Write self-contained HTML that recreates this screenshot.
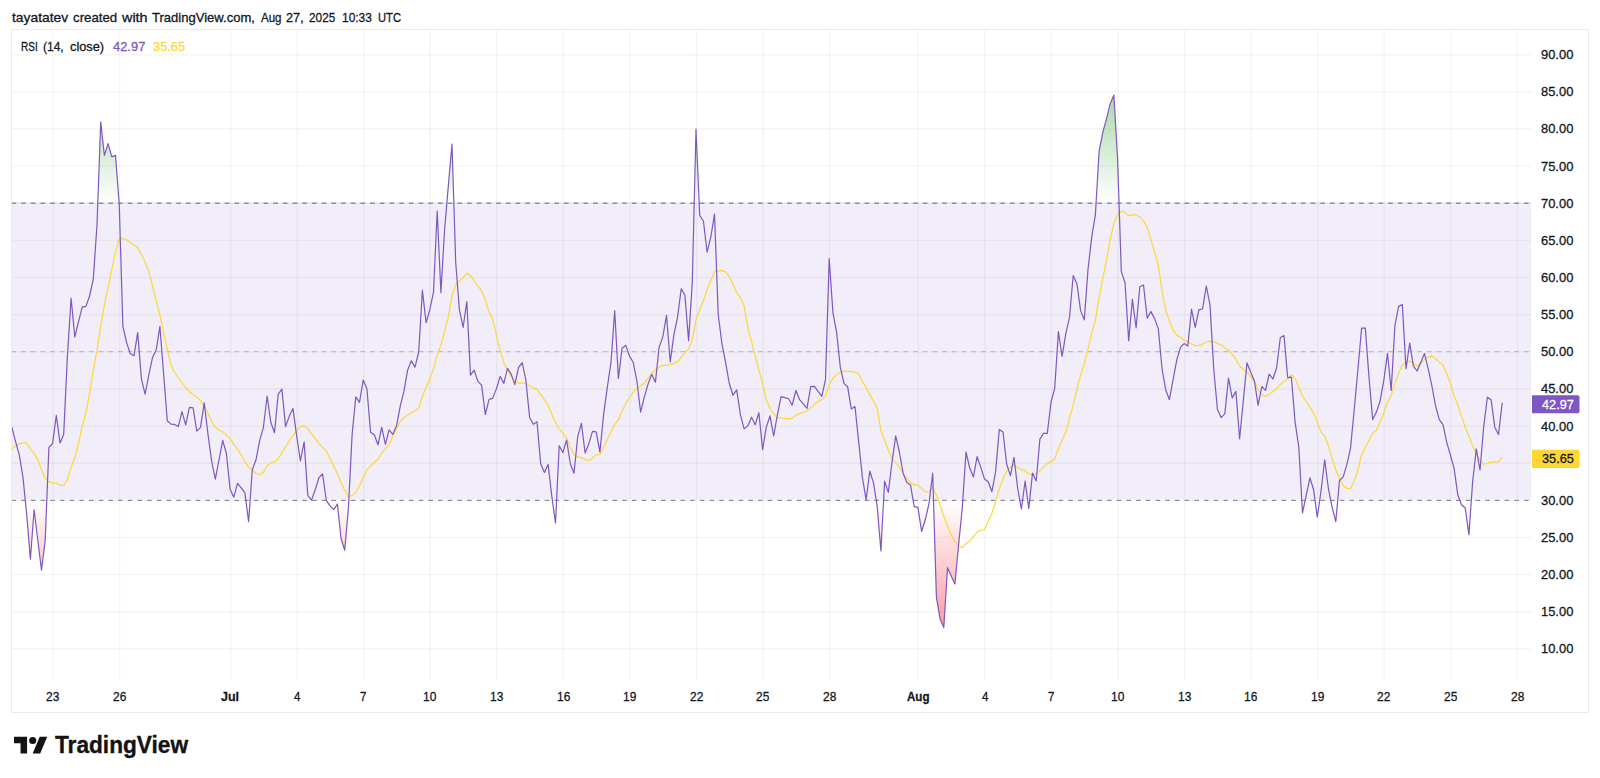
<!DOCTYPE html>
<html><head><meta charset="utf-8"><title>RSI chart</title>
<style>
html,body{margin:0;padding:0;background:#fff}
body{width:1600px;height:778px;position:relative;overflow:hidden;font-family:"Liberation Sans",sans-serif;color:#131722}
.w{position:absolute;display:block;white-space:nowrap;line-height:16px;transform-origin:0 0;color:#131722;-webkit-text-stroke:0.3px currentColor}
#frame{position:absolute;left:11px;top:29px;width:1578px;height:684px;border:1px solid #ececef;box-sizing:border-box}
svg{position:absolute;left:0;top:0}
#logo{position:absolute;left:13.5px;top:732px}
</style></head><body>
<span class="w" style="left:12.10px;top:9.70px;font-size:13.50px;transform:scaleX(1.0240);">tayatatev</span> <span class="w" style="left:72.60px;top:9.70px;font-size:13.50px;transform:scaleX(0.9817);">created</span> <span class="w" style="left:122.03px;top:9.70px;font-size:13.50px;transform:scaleX(1.0653);">with</span> <span class="w" style="left:152.20px;top:9.70px;font-size:13.50px;transform:scaleX(0.9657);">TradingView.com,</span> <span class="w" style="left:260.60px;top:9.70px;font-size:13.50px;transform:scaleX(0.8536);">Aug</span> <span class="w" style="left:286.00px;top:9.70px;font-size:13.50px;transform:scaleX(0.9432);">27,</span> <span class="w" style="left:308.90px;top:9.70px;font-size:13.50px;transform:scaleX(0.8756);">2025</span> <span class="w" style="left:342.00px;top:9.70px;font-size:13.50px;transform:scaleX(0.8852);">10:33</span> <span class="w" style="left:377.80px;top:9.70px;font-size:13.50px;transform:scaleX(0.8291);">UTC</span>
<div id="frame"></div>
<svg width="1600" height="778" viewBox="0 0 1600 778">
<defs><clipPath id="cp"><rect x="12" y="30" width="1519" height="651"/></clipPath>
<linearGradient id="gob" gradientUnits="userSpaceOnUse" x1="0" y1="-19.6" x2="0" y2="203.2"><stop offset="0" stop-color="#4caf50" stop-opacity="1"/><stop offset="1" stop-color="#4caf50" stop-opacity="0"/></linearGradient>
<linearGradient id="gos" gradientUnits="userSpaceOnUse" x1="0" y1="500.3" x2="0" y2="723.1"><stop offset="0" stop-color="#f7525f" stop-opacity="0"/><stop offset="1" stop-color="#f7525f" stop-opacity="1"/></linearGradient>
</defs>
<rect x="12" y="202.2" width="1519" height="297.1" fill="#7e57c2" fill-opacity="0.105"/>
<g stroke="#131722" stroke-opacity="0.042" stroke-width="1.4"><line x1="12" x2="1531.2" y1="648.91" y2="648.91"/><line x1="12" x2="1531.2" y1="611.77" y2="611.77"/><line x1="12" x2="1531.2" y1="574.64" y2="574.64"/><line x1="12" x2="1531.2" y1="537.50" y2="537.50"/><line x1="12" x2="1531.2" y1="500.37" y2="500.37"/><line x1="12" x2="1531.2" y1="463.23" y2="463.23"/><line x1="12" x2="1531.2" y1="426.10" y2="426.10"/><line x1="12" x2="1531.2" y1="388.96" y2="388.96"/><line x1="12" x2="1531.2" y1="351.83" y2="351.83"/><line x1="12" x2="1531.2" y1="314.69" y2="314.69"/><line x1="12" x2="1531.2" y1="277.56" y2="277.56"/><line x1="12" x2="1531.2" y1="240.42" y2="240.42"/><line x1="12" x2="1531.2" y1="203.29" y2="203.29"/><line x1="12" x2="1531.2" y1="166.16" y2="166.16"/><line x1="12" x2="1531.2" y1="129.02" y2="129.02"/><line x1="12" x2="1531.2" y1="91.88" y2="91.88"/><line x1="12" x2="1531.2" y1="54.75" y2="54.75"/><line x1="53.07" x2="53.07" y1="30" y2="681"/><line x1="119.63" x2="119.63" y1="30" y2="681"/><line x1="230.57" x2="230.57" y1="30" y2="681"/><line x1="297.13" x2="297.13" y1="30" y2="681"/><line x1="363.69" x2="363.69" y1="30" y2="681"/><line x1="430.25" x2="430.25" y1="30" y2="681"/><line x1="496.81" x2="496.81" y1="30" y2="681"/><line x1="563.37" x2="563.37" y1="30" y2="681"/><line x1="629.93" x2="629.93" y1="30" y2="681"/><line x1="696.49" x2="696.49" y1="30" y2="681"/><line x1="763.05" x2="763.05" y1="30" y2="681"/><line x1="829.61" x2="829.61" y1="30" y2="681"/><line x1="918.36" x2="918.36" y1="30" y2="681"/><line x1="984.92" x2="984.92" y1="30" y2="681"/><line x1="1051.48" x2="1051.48" y1="30" y2="681"/><line x1="1118.04" x2="1118.04" y1="30" y2="681"/><line x1="1184.60" x2="1184.60" y1="30" y2="681"/><line x1="1251.16" x2="1251.16" y1="30" y2="681"/><line x1="1317.72" x2="1317.72" y1="30" y2="681"/><line x1="1384.28" x2="1384.28" y1="30" y2="681"/><line x1="1450.84" x2="1450.84" y1="30" y2="681"/><line x1="1517.40" x2="1517.40" y1="30" y2="681"/></g>
<g stroke="#8e909a" stroke-width="1.35" stroke-dasharray="4.7 4.9955" stroke-dashoffset="0.61" fill="none">
<line x1="12" x2="1531" y1="203.2" y2="203.2"/>
<line x1="12" x2="1531" y1="500.3" y2="500.3"/>
<line x1="12" x2="1531" y1="351.7" y2="351.7" stroke-opacity="0.5" stroke-width="1.3"/>
</g>
<g clip-path="url(#cp)"><path d="M97.8,203.2 L100.7,121.9 L104.4,155.4 L108.1,143.6 L111.8,156.9 L115.5,155.4 L119.2,203.2Z M446.8,203.2 L448.3,186.1 L452.0,144.2 L453.8,203.2Z M694.2,203.2 L696.0,129.2 L699.2,203.2Z M1096.1,203.2 L1099.1,151.1 L1102.8,132.4 L1106.5,118.7 L1110.2,103.7 L1113.9,95.0 L1117.6,159.3 L1119.0,203.2Z" fill="url(#gob)"/>
<path d="M25.3,500.3 L26.7,514.8 L30.4,559.2 L34.1,509.8 L37.8,540.2 L41.5,570.2 L45.2,540.5 L46.8,500.3Z M245.9,500.3 L248.6,521.6 L250.1,500.3Z M326.2,500.3 L326.3,500.4 L330.0,505.9 L333.7,509.6 L337.4,504.1 L341.0,538.3 L344.7,550.3 L348.4,508.4 L348.9,500.3Z M552.4,500.3 L555.5,523.0 L556.6,500.3Z M876.3,500.3 L877.2,506.1 L880.9,551.0 L883.6,500.3Z M913.1,500.3 L914.2,506.6 L917.9,507.3 L921.6,531.5 L925.3,519.8 L929.0,503.6 L929.4,500.3Z M933.5,500.3 L936.4,597.1 L940.1,619.1 L943.8,627.5 L947.5,567.7 L951.2,575.9 L954.9,583.9 L958.6,544.7 L962.3,507.9 L962.8,500.3Z M1019.9,500.3 L1021.4,509.0 L1022.6,500.3Z M1027.7,500.3 L1028.8,508.5 L1029.7,500.3Z M1301.8,500.3 L1302.5,513.0 L1305.1,500.3Z M1315.0,500.3 L1317.3,517.2 L1319.7,500.3Z M1330.7,500.3 L1332.1,507.2 L1335.8,521.7 L1337.7,500.3Z M1459.8,500.3 L1461.5,504.7 L1465.2,508.0 L1468.9,534.7 L1471.3,500.3Z" fill="url(#gos)"/>
<path d="M8.2,449.1 L11.9,449.1 L15.6,445.6 L19.3,443.6 L23.0,442.9 L26.7,442.9 L30.4,449.3 L34.1,453.1 L37.8,459.8 L41.5,469.8 L45.2,478.7 L48.9,481.9 L52.6,482.9 L56.3,482.9 L60.0,485.4 L63.7,485.4 L67.4,479.9 L71.1,467.4 L74.8,457.3 L78.5,443.6 L82.2,426.1 L85.9,412.9 L89.6,393.7 L93.3,370.0 L97.0,350.1 L100.7,326.4 L104.4,305.2 L108.1,287.4 L111.8,269.6 L115.5,252.1 L119.2,238.8 L122.9,238.4 L126.6,239.7 L130.3,242.6 L134.0,245.1 L137.7,247.6 L141.4,254.1 L145.1,262.1 L148.8,271.6 L152.5,285.9 L156.2,300.2 L159.9,315.2 L163.6,332.6 L167.3,349.3 L171.0,365.0 L174.6,372.5 L178.3,377.5 L182.0,382.5 L185.7,387.5 L189.4,391.7 L193.1,394.5 L196.8,397.3 L200.5,400.2 L204.2,406.1 L207.9,413.6 L211.6,421.1 L215.3,427.3 L219.0,430.3 L222.7,431.8 L226.4,434.8 L230.1,438.6 L233.8,444.3 L237.5,449.3 L241.2,454.8 L244.9,461.7 L248.6,467.2 L252.3,469.7 L256.0,473.5 L259.7,474.7 L263.4,472.2 L267.1,466.0 L270.8,463.0 L274.5,462.2 L278.2,458.5 L281.9,452.8 L285.6,446.8 L289.3,441.0 L293.0,435.3 L296.7,430.6 L300.4,426.8 L304.1,425.6 L307.8,428.6 L311.5,433.6 L315.2,438.6 L318.9,443.5 L322.6,447.3 L326.3,451.0 L330.0,458.5 L333.7,466.0 L337.4,473.5 L341.0,482.2 L344.7,490.2 L348.4,496.7 L352.1,495.4 L355.8,492.2 L359.5,485.9 L363.2,477.2 L366.9,469.7 L370.6,466.0 L374.3,462.2 L378.0,459.3 L381.7,453.5 L385.4,448.5 L389.1,444.3 L392.8,436.1 L396.5,428.6 L400.2,421.3 L403.9,417.5 L407.6,415.0 L411.3,412.6 L415.0,410.8 L418.7,408.3 L422.4,396.3 L426.1,387.6 L429.8,378.9 L433.5,368.9 L437.2,355.2 L440.9,345.2 L444.6,331.1 L448.3,317.1 L452.0,295.9 L455.7,284.6 L459.4,280.9 L463.1,277.7 L466.8,273.4 L470.5,275.4 L474.2,280.9 L477.9,285.9 L481.6,290.9 L485.3,299.6 L489.0,312.1 L492.7,319.6 L496.4,334.9 L500.1,350.2 L503.8,362.7 L507.5,370.2 L511.1,376.4 L514.8,380.9 L518.5,383.1 L522.2,382.9 L525.9,383.4 L529.6,385.6 L533.3,388.1 L537.0,389.4 L540.7,394.6 L544.4,399.6 L548.1,405.6 L551.8,414.3 L555.5,422.5 L559.2,428.8 L562.9,433.3 L566.6,438.2 L570.3,447.5 L574.0,454.4 L577.7,456.9 L581.4,457.9 L585.1,459.4 L588.8,460.7 L592.5,457.9 L596.2,454.9 L599.9,454.6 L603.6,447.1 L607.3,439.6 L611.0,432.1 L614.7,424.7 L618.4,419.7 L622.1,410.9 L625.8,403.5 L629.5,397.2 L633.2,392.2 L636.9,388.5 L640.6,386.0 L644.3,383.0 L648.0,378.5 L651.7,373.5 L655.4,369.8 L659.1,367.3 L662.8,365.3 L666.5,365.3 L670.2,364.3 L673.9,363.6 L677.5,361.8 L681.2,357.3 L684.9,352.3 L688.6,349.1 L692.3,339.9 L696.0,319.9 L699.7,310.0 L703.4,300.8 L707.1,289.6 L710.8,280.8 L714.5,271.6 L718.2,270.9 L721.9,270.4 L725.6,272.1 L729.3,276.6 L733.0,284.6 L736.7,292.7 L740.4,297.5 L744.1,306.0 L747.8,327.4 L751.5,341.1 L755.2,356.1 L758.9,369.8 L762.6,383.5 L766.3,399.7 L770.0,408.5 L773.7,413.9 L777.4,417.7 L781.1,418.2 L784.8,418.4 L788.5,419.2 L792.2,418.4 L795.9,415.4 L799.6,413.4 L803.3,412.6 L807.0,410.8 L810.7,407.9 L814.4,404.1 L818.1,401.4 L821.8,399.6 L825.5,396.6 L829.2,384.7 L832.9,378.4 L836.6,374.2 L840.3,372.2 L844.0,371.2 L847.6,371.2 L851.3,371.7 L855.0,372.2 L858.7,373.9 L862.4,381.4 L866.1,387.7 L869.8,394.6 L873.5,401.4 L877.2,408.4 L880.9,430.2 L884.6,440.1 L888.3,450.0 L892.0,458.7 L895.7,462.4 L899.4,467.4 L903.1,472.9 L906.8,478.7 L910.5,482.4 L914.2,484.9 L917.9,484.9 L921.6,488.6 L925.3,491.9 L929.0,491.9 L932.7,486.6 L936.4,495.4 L940.1,504.8 L943.8,516.1 L947.5,526.0 L951.2,534.8 L954.9,541.7 L958.6,546.0 L962.3,547.4 L966.0,543.4 L969.7,540.9 L973.4,536.6 L977.1,532.1 L980.8,530.0 L984.5,530.0 L988.2,521.0 L991.9,513.5 L995.6,501.7 L999.3,489.2 L1003.0,478.6 L1006.7,471.1 L1010.4,467.3 L1014.0,464.8 L1017.7,467.8 L1021.4,469.8 L1025.1,470.6 L1028.8,474.1 L1032.5,474.3 L1036.2,473.6 L1039.9,470.6 L1043.6,466.8 L1047.3,463.6 L1051.0,461.6 L1054.7,459.1 L1058.4,448.5 L1062.1,439.7 L1065.8,432.3 L1069.5,418.5 L1073.2,404.8 L1076.9,389.7 L1080.6,374.7 L1084.3,364.3 L1088.0,348.6 L1091.7,333.6 L1095.4,319.9 L1099.1,297.4 L1102.8,278.7 L1106.5,259.6 L1110.2,239.6 L1113.9,223.4 L1117.6,214.2 L1121.3,211.4 L1125.0,212.2 L1128.7,215.9 L1132.4,214.7 L1136.1,215.2 L1139.8,216.7 L1143.5,220.9 L1147.2,227.1 L1150.9,239.6 L1154.6,252.1 L1158.3,264.6 L1162.0,291.2 L1165.7,309.9 L1169.4,321.1 L1173.1,329.9 L1176.8,335.3 L1180.5,337.3 L1184.1,340.3 L1187.8,341.6 L1191.5,344.1 L1195.2,345.6 L1198.9,345.4 L1202.6,344.1 L1206.3,342.3 L1210.0,341.1 L1213.7,341.8 L1217.4,343.6 L1221.1,344.8 L1224.8,347.8 L1228.5,350.3 L1232.2,354.3 L1235.9,359.3 L1239.6,366.0 L1243.3,369.3 L1247.0,372.2 L1250.7,376.7 L1254.4,381.0 L1258.1,389.7 L1261.8,394.7 L1265.5,396.4 L1269.2,393.9 L1272.9,391.7 L1276.6,388.5 L1280.3,384.7 L1284.0,381.0 L1287.7,379.0 L1291.4,374.7 L1295.1,378.5 L1298.8,387.2 L1302.5,395.9 L1306.2,401.7 L1309.9,407.2 L1313.6,412.9 L1317.3,422.1 L1321.0,432.1 L1324.7,435.8 L1328.4,445.8 L1332.1,458.3 L1335.8,469.8 L1339.5,478.6 L1343.2,485.5 L1346.9,488.5 L1350.5,488.5 L1354.2,481.0 L1357.9,469.8 L1361.6,454.5 L1365.3,447.1 L1369.0,440.3 L1372.7,433.3 L1376.4,430.3 L1380.1,422.1 L1383.8,412.8 L1387.5,402.2 L1391.2,395.3 L1394.9,384.1 L1398.6,373.5 L1402.3,364.8 L1406.0,362.8 L1409.7,361.1 L1413.4,363.6 L1417.1,366.1 L1420.8,363.6 L1424.5,359.3 L1428.2,356.8 L1431.9,356.1 L1435.6,358.6 L1439.3,362.3 L1443.0,364.8 L1446.7,373.5 L1450.4,383.5 L1454.1,396.0 L1457.8,404.7 L1461.5,415.9 L1465.2,427.2 L1468.9,435.9 L1472.6,445.9 L1476.3,453.3 L1480.0,460.8 L1483.7,464.1 L1487.4,463.3 L1491.1,462.1 L1494.8,462.1 L1498.5,461.6 L1502.2,457.6" fill="none" stroke="#fdd835" stroke-width="1.2" stroke-linejoin="round" stroke-linecap="round"/>
<path d="M8.2,427.4 L11.9,427.4 L15.6,441.6 L19.3,454.8 L23.0,477.4 L26.7,514.8 L30.4,559.2 L34.1,509.8 L37.8,540.2 L41.5,570.2 L45.2,540.5 L48.9,447.4 L52.6,443.6 L56.3,415.4 L60.0,442.9 L63.7,434.4 L67.4,356.3 L71.1,298.2 L74.8,336.9 L78.5,321.9 L82.2,307.2 L85.9,306.4 L89.6,296.0 L93.3,279.1 L97.0,224.7 L100.7,121.9 L104.4,155.4 L108.1,143.6 L111.8,156.9 L115.5,155.4 L119.2,203.5 L122.9,326.4 L126.6,342.6 L130.3,353.8 L134.0,355.8 L137.7,332.6 L141.4,378.8 L145.1,394.2 L148.8,375.0 L152.5,357.6 L156.2,350.1 L159.9,326.4 L163.6,373.8 L167.3,420.7 L171.0,424.1 L174.6,424.4 L178.3,426.6 L182.0,411.7 L185.7,424.9 L189.4,407.4 L193.1,407.9 L196.8,431.1 L200.5,427.4 L204.2,402.9 L207.9,433.6 L211.6,461.0 L215.3,479.2 L219.0,459.8 L222.7,440.3 L226.4,453.5 L230.1,489.2 L233.8,497.2 L237.5,483.4 L241.2,487.9 L244.9,492.9 L248.6,521.6 L252.3,469.7 L256.0,459.8 L259.7,440.3 L263.4,427.3 L267.1,396.2 L270.8,422.3 L274.5,432.8 L278.2,394.4 L281.9,389.2 L285.6,426.6 L289.3,416.1 L293.0,408.6 L296.7,436.1 L300.4,461.0 L304.1,441.8 L307.8,495.4 L311.5,500.1 L315.2,489.7 L318.9,477.7 L322.6,474.0 L326.3,500.4 L330.0,505.9 L333.7,509.6 L337.4,504.1 L341.0,538.3 L344.7,550.3 L348.4,508.4 L352.1,434.8 L355.8,396.9 L359.5,402.4 L363.2,380.0 L366.9,388.7 L370.6,432.3 L374.3,434.8 L378.0,444.8 L381.7,427.3 L385.4,444.3 L389.1,429.8 L392.8,434.3 L396.5,426.1 L400.2,406.3 L403.9,391.4 L407.6,370.2 L411.3,360.9 L415.0,367.2 L418.7,352.0 L422.4,290.4 L426.1,322.8 L429.8,309.6 L433.5,292.1 L437.2,211.1 L440.9,292.6 L444.6,229.8 L448.3,186.1 L452.0,144.2 L455.7,262.2 L459.4,309.6 L463.1,327.5 L466.8,301.6 L470.5,375.1 L474.2,370.2 L477.9,381.4 L481.6,385.1 L485.3,414.5 L489.0,399.6 L492.7,398.1 L496.4,388.9 L500.1,376.4 L503.8,383.4 L507.5,368.4 L511.1,373.9 L514.8,384.6 L518.5,367.7 L522.2,362.7 L525.9,380.1 L529.6,417.5 L533.3,424.3 L537.0,421.8 L540.7,463.7 L544.4,472.4 L548.1,464.4 L551.8,496.1 L555.5,523.0 L559.2,445.7 L562.9,452.5 L566.6,440.0 L570.3,463.7 L574.0,473.2 L577.7,436.7 L581.4,423.3 L585.1,453.0 L588.8,443.7 L592.5,431.3 L596.2,431.8 L599.9,452.1 L603.6,414.7 L607.3,387.3 L611.0,362.3 L614.7,310.7 L618.4,378.5 L622.1,347.9 L625.8,345.4 L629.5,356.1 L633.2,362.3 L636.9,381.0 L640.6,412.2 L644.3,397.2 L648.0,384.3 L651.7,374.3 L655.4,382.3 L659.1,347.4 L662.8,336.9 L666.5,315.4 L670.2,361.8 L673.9,334.9 L677.5,317.4 L681.2,288.8 L684.9,295.1 L688.6,340.6 L692.3,282.1 L696.0,129.2 L699.7,215.3 L703.4,221.0 L707.1,252.2 L710.8,237.2 L714.5,214.0 L718.2,314.2 L721.9,343.6 L725.6,362.3 L729.3,383.5 L733.0,395.2 L736.7,389.8 L740.4,414.7 L744.1,428.9 L747.8,425.9 L751.5,417.2 L755.2,424.7 L758.9,412.7 L762.6,449.6 L766.3,427.2 L770.0,415.9 L773.7,435.9 L777.4,414.7 L781.1,396.7 L784.8,397.7 L788.5,398.5 L792.2,405.2 L795.9,390.5 L799.6,399.7 L803.3,403.9 L807.0,408.4 L810.7,386.7 L814.4,386.4 L818.1,391.4 L821.8,396.4 L825.5,379.7 L829.2,258.7 L832.9,312.3 L836.6,332.3 L840.3,367.2 L844.0,383.4 L847.6,386.7 L851.3,408.9 L855.0,406.6 L858.7,442.0 L862.4,477.4 L866.1,499.9 L869.8,471.2 L873.5,482.9 L877.2,506.1 L880.9,551.0 L884.6,481.1 L888.3,492.4 L892.0,462.4 L895.7,435.8 L899.4,452.0 L903.1,473.2 L906.8,482.4 L910.5,484.9 L914.2,506.6 L917.9,507.3 L921.6,531.5 L925.3,519.8 L929.0,503.6 L932.7,473.2 L936.4,597.1 L940.1,619.1 L943.8,627.5 L947.5,567.7 L951.2,575.9 L954.9,583.9 L958.6,544.7 L962.3,507.9 L966.0,452.0 L969.7,468.0 L973.4,476.9 L977.1,456.7 L980.8,467.4 L984.5,478.9 L988.2,481.7 L991.9,491.7 L995.6,471.7 L999.3,429.4 L1003.0,432.0 L1006.7,464.3 L1010.4,475.6 L1014.0,457.4 L1017.7,488.5 L1021.4,509.0 L1025.1,481.0 L1028.8,508.5 L1032.5,473.1 L1036.2,481.0 L1039.9,439.1 L1043.6,433.3 L1047.3,433.3 L1051.0,402.2 L1054.7,388.5 L1058.4,331.6 L1062.1,356.5 L1065.8,333.6 L1069.5,317.4 L1073.2,275.5 L1076.9,283.7 L1080.6,310.6 L1084.3,319.9 L1088.0,269.5 L1091.7,237.1 L1095.4,214.7 L1099.1,151.1 L1102.8,132.4 L1106.5,118.7 L1110.2,103.7 L1113.9,95.0 L1117.6,159.3 L1121.3,271.6 L1125.0,282.5 L1128.7,340.6 L1132.4,299.4 L1136.1,327.9 L1139.8,286.7 L1143.5,285.0 L1147.2,318.1 L1150.9,311.6 L1154.6,318.6 L1158.3,328.6 L1162.0,368.5 L1165.7,389.7 L1169.4,399.7 L1173.1,379.7 L1176.8,359.8 L1180.5,347.3 L1184.1,343.6 L1187.8,346.1 L1191.5,309.2 L1195.2,327.4 L1198.9,309.9 L1202.6,308.7 L1206.3,286.2 L1210.0,304.9 L1213.7,368.5 L1217.4,409.2 L1221.1,417.6 L1224.8,413.9 L1228.5,378.0 L1232.2,397.9 L1235.9,391.4 L1239.6,438.8 L1243.3,400.9 L1247.0,362.8 L1250.7,372.2 L1254.4,381.0 L1258.1,405.2 L1261.8,386.5 L1265.5,390.4 L1269.2,374.0 L1272.9,379.0 L1276.6,368.0 L1280.3,337.8 L1284.0,335.6 L1287.7,377.7 L1291.4,377.2 L1295.1,422.1 L1298.8,447.1 L1302.5,513.0 L1306.2,495.3 L1309.9,477.8 L1313.6,489.8 L1317.3,517.2 L1321.0,491.0 L1324.7,459.9 L1328.4,488.5 L1332.1,507.2 L1335.8,521.7 L1339.5,480.5 L1343.2,476.8 L1346.9,464.3 L1350.5,448.3 L1354.2,409.7 L1357.9,369.8 L1361.6,328.1 L1365.3,328.1 L1369.0,377.2 L1372.7,419.6 L1376.4,412.1 L1380.1,400.9 L1383.8,380.4 L1387.5,353.3 L1391.2,390.5 L1394.9,325.5 L1398.6,306.4 L1402.3,304.5 L1406.0,368.6 L1409.7,343.1 L1413.4,366.1 L1417.1,371.0 L1420.8,362.3 L1424.5,353.6 L1428.2,368.6 L1431.9,386.0 L1435.6,406.0 L1439.3,419.7 L1443.0,424.7 L1446.7,442.1 L1450.4,455.1 L1454.1,468.3 L1457.8,494.8 L1461.5,504.7 L1465.2,508.0 L1468.9,534.7 L1472.6,482.3 L1476.3,448.9 L1480.0,470.0 L1483.7,426.7 L1487.4,397.2 L1491.1,399.7 L1494.8,427.2 L1498.5,434.6 L1502.2,403.0" fill="none" stroke="#7e57c2" stroke-width="1.2" stroke-linejoin="round" stroke-linecap="round"/></g>
<path d="M1532,395.2h45.5a2,2 0 0 1 2,2v14a2,2 0 0 1 -2,2h-45.5z" fill="#7e57c2"/><path d="M1532,449.8h45.5a2,2 0 0 1 2,2v14.2a2,2 0 0 1 -2,2h-45.5z" fill="#fdd835"/>
</svg>
<span class="w" style="left:20.70px;top:38.80px;font-size:13.50px;transform:scaleX(0.7421);">RSI</span> <span class="w" style="left:43.30px;top:38.80px;font-size:13.50px;transform:scaleX(0.8899);">(14,</span> <span class="w" style="left:70.00px;top:38.80px;font-size:13.50px;transform:scaleX(0.9467);">close)</span> <span class="w" style="left:112.50px;top:38.80px;font-size:13.50px;transform:scaleX(0.9563);color:#7e57c2;">42.97</span> <span class="w" style="left:153.30px;top:38.80px;font-size:13.50px;transform:scaleX(0.9504);color:#fdd835;">35.65</span>
 <span class="w" style="left:46.22px;top:689.00px;font-size:13.50px;transform:scaleX(0.8860);">23</span> <span class="w" style="left:112.78px;top:689.00px;font-size:13.50px;transform:scaleX(0.8860);">26</span> <span class="w" style="left:221.37px;top:689.00px;font-size:13.50px;transform:scaleX(0.9227);font-weight:bold;">Jul</span> <span class="w" style="left:293.73px;top:689.00px;font-size:13.50px;transform:scaleX(0.8527);">4</span> <span class="w" style="left:360.29px;top:689.00px;font-size:13.50px;transform:scaleX(0.8527);">7</span> <span class="w" style="left:423.40px;top:689.00px;font-size:13.50px;transform:scaleX(0.8860);">10</span> <span class="w" style="left:489.96px;top:689.00px;font-size:13.50px;transform:scaleX(0.8860);">13</span> <span class="w" style="left:556.52px;top:689.00px;font-size:13.50px;transform:scaleX(0.8860);">16</span> <span class="w" style="left:623.08px;top:689.00px;font-size:13.50px;transform:scaleX(0.8860);">19</span> <span class="w" style="left:689.64px;top:689.00px;font-size:13.50px;transform:scaleX(0.8860);">22</span> <span class="w" style="left:756.20px;top:689.00px;font-size:13.50px;transform:scaleX(0.8860);">25</span> <span class="w" style="left:822.76px;top:689.00px;font-size:13.50px;transform:scaleX(0.8860);">28</span> <span class="w" style="left:906.91px;top:689.00px;font-size:13.50px;transform:scaleX(0.8573);font-weight:bold;">Aug</span> <span class="w" style="left:981.52px;top:689.00px;font-size:13.50px;transform:scaleX(0.8527);">4</span> <span class="w" style="left:1048.08px;top:689.00px;font-size:13.50px;transform:scaleX(0.8527);">7</span> <span class="w" style="left:1111.19px;top:689.00px;font-size:13.50px;transform:scaleX(0.8860);">10</span> <span class="w" style="left:1177.75px;top:689.00px;font-size:13.50px;transform:scaleX(0.8860);">13</span> <span class="w" style="left:1244.31px;top:689.00px;font-size:13.50px;transform:scaleX(0.8860);">16</span> <span class="w" style="left:1310.87px;top:689.00px;font-size:13.50px;transform:scaleX(0.8860);">19</span> <span class="w" style="left:1377.43px;top:689.00px;font-size:13.50px;transform:scaleX(0.8860);">22</span> <span class="w" style="left:1443.99px;top:689.00px;font-size:13.50px;transform:scaleX(0.8860);">25</span> <span class="w" style="left:1510.55px;top:689.00px;font-size:13.50px;transform:scaleX(0.8860);">28</span>
 <span class="w" style="left:1541.00px;top:640.75px;font-size:13.50px;transform:scaleX(0.9563);">10.00</span> <span class="w" style="left:1541.00px;top:603.75px;font-size:13.50px;transform:scaleX(0.9563);">15.00</span> <span class="w" style="left:1541.00px;top:566.75px;font-size:13.50px;transform:scaleX(0.9563);">20.00</span> <span class="w" style="left:1541.00px;top:529.75px;font-size:13.50px;transform:scaleX(0.9563);">25.00</span> <span class="w" style="left:1541.00px;top:492.75px;font-size:13.50px;transform:scaleX(0.9563);">30.00</span> <span class="w" style="left:1541.00px;top:418.75px;font-size:13.50px;transform:scaleX(0.9563);">40.00</span> <span class="w" style="left:1541.00px;top:380.75px;font-size:13.50px;transform:scaleX(0.9563);">45.00</span> <span class="w" style="left:1541.00px;top:343.75px;font-size:13.50px;transform:scaleX(0.9563);">50.00</span> <span class="w" style="left:1541.00px;top:306.75px;font-size:13.50px;transform:scaleX(0.9563);">55.00</span> <span class="w" style="left:1541.00px;top:269.75px;font-size:13.50px;transform:scaleX(0.9563);">60.00</span> <span class="w" style="left:1541.00px;top:232.75px;font-size:13.50px;transform:scaleX(0.9563);">65.00</span> <span class="w" style="left:1541.00px;top:195.75px;font-size:13.50px;transform:scaleX(0.9563);">70.00</span> <span class="w" style="left:1541.00px;top:158.75px;font-size:13.50px;transform:scaleX(0.9563);">75.00</span> <span class="w" style="left:1541.00px;top:120.75px;font-size:13.50px;transform:scaleX(0.9563);">80.00</span> <span class="w" style="left:1541.00px;top:83.75px;font-size:13.50px;transform:scaleX(0.9563);">85.00</span> <span class="w" style="left:1541.00px;top:46.75px;font-size:13.50px;transform:scaleX(0.9563);">90.00</span>
<span class="w" style="left:1541.50px;top:396.50px;font-size:13.50px;transform:scaleX(0.9415);color:#fff;">42.97</span>
<span class="w" style="left:1541.50px;top:450.90px;font-size:13.50px;transform:scaleX(0.9415);color:#131722;">35.65</span>
<svg id="logo" width="33.66" height="26.18" viewBox="0 0 36 28" style="left:13.5px;top:732.7px"><path d="M14 22H7V11H0V4h14v18zM28 22h-8l7.5-18h8L28 22z" fill="#131313"/><circle cx="20" cy="8" r="3.8" fill="#131313"/></svg>
<span class="w" style="left:54.60px;top:731.50px;font-size:24.00px;transform:scaleX(0.9441);font-weight:bold;color:#131313;line-height:26px;-webkit-text-stroke:0.35px #131313;">TradingView</span>
</body></html>
